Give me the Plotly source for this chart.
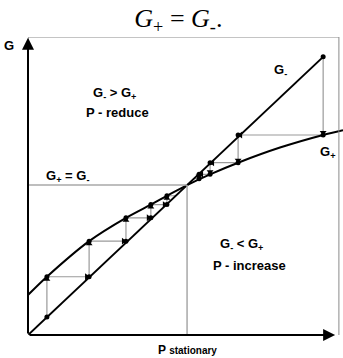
import plotly.graph_objects as go

# G- straight line (data units)
gminus_x = [0.0, 9.37]
gminus_y = [0.0, 8.83]

# G+ concave curve
gplus_x = [0.0, 0.60, 1.94, 3.11, 3.90, 4.41, 5.05, 5.78, 6.67, 8.0, 9.37, 10.0]
gplus_y = [1.27, 1.85, 2.98, 3.72, 4.14, 4.42, 4.76, 5.10, 5.47, 5.95, 6.35, 6.50]

# cobweb from below (P increase)
low_x = [0.60, 0.60, 1.94, 1.94, 3.11, 3.11, 3.90, 3.90, 4.41, 4.41, 4.70]
low_y = [0.57, 1.85, 1.85, 2.98, 2.98, 3.72, 3.72, 4.14, 4.14, 4.42, 4.42]

# cobweb from above (P reduce)
high_x = [9.37, 9.37, 6.67, 6.67, 5.78, 5.78, 5.43, 5.43, 5.25]
high_y = [8.83, 6.35, 6.35, 5.47, 5.47, 5.10, 5.10, 4.96, 4.96]

p_stat = 5.05
g_stat = 4.76

XMAX = 10.0
YMAX = 298 / 31.5

fig = go.Figure()

# gray frame
fig.add_shape(type="rect", x0=0, x1=9.87, y0=-0.3, y1=YMAX,
              line=dict(color="#8a8a8a", width=1))
# stationary guides
fig.add_shape(type="line", x0=0, x1=p_stat, y0=g_stat, y1=g_stat,
              line=dict(color="#a8a8a8", width=1.5))
fig.add_shape(type="line", x0=p_stat, x1=p_stat, y0=0, y1=g_stat,
              line=dict(color="#a8a8a8", width=1.5))

# cobwebs
for cx, cy in [(low_x, low_y), (high_x, high_y)]:
    fig.add_trace(go.Scatter(x=cx, y=cy, mode="lines",
                             line=dict(color="#9a9a9a", width=1.2)))

# curves
fig.add_trace(go.Scatter(x=gminus_x, y=gminus_y, mode="lines",
                         line=dict(color="black", width=2)))
fig.add_trace(go.Scatter(x=gplus_x, y=gplus_y, mode="lines",
                         line=dict(color="black", width=2, shape="spline", smoothing=0.8)))

# corner dots
dots_x = [0.0] + low_x[:-1] + high_x[:-1]
dots_y = [0.0] + low_y[:-1] + high_y[:-1]
fig.add_trace(go.Scatter(x=dots_x, y=dots_y, mode="markers",
                         marker=dict(color="black", size=5)))

# small arrowheads at segment ends
ax, ay, sym = [], [], []
for cx, cy in [(low_x, low_y), (high_x, high_y)]:
    for i in range(1, len(cx) - 1):
        x0, y0, x1, y1 = cx[i - 1], cy[i - 1], cx[i], cy[i]
        f = 0.08
        if x0 == x1:
            d = 1 if y1 > y0 else -1
            ax.append(x1)
            ay.append(y1 - d * f)
            sym.append("triangle-up" if d > 0 else "triangle-down")
        else:
            d = 1 if x1 > x0 else -1
            ax.append(x1 - d * f)
            ay.append(y1)
            sym.append("triangle-right" if d > 0 else "triangle-left")
fig.add_trace(go.Scatter(x=ax, y=ay, mode="markers",
                         marker=dict(color="black", size=6, symbol=sym)))

# axes with arrows
fig.add_annotation(x=9.75, y=0, ax=0, ay=0, xref="x", yref="y", axref="x", ayref="y",
                   showarrow=True, arrowhead=2, arrowsize=1.2, arrowwidth=2, arrowcolor="black", text="")
fig.add_annotation(x=0, y=YMAX - 0.02, ax=0, ay=0, xref="x", yref="y", axref="x", ayref="y",
                   showarrow=True, arrowhead=2, arrowsize=1.2, arrowwidth=2, arrowcolor="black", text="")

bold = dict(family="Liberation Sans", size=13, color="black")
labels = [
    (2.73, 7.68, "<b>G<sub>-</sub> > G<sub>+</sub></b>"),
    (2.84, 7.05, "<b>P - reduce</b>"),
    (8.03, 8.41, "<b>G<sub>-</sub></b>"),
    (9.52, 5.78, "<b>G<sub>+</sub></b>"),
    (1.24, 5.04, "<b>G<sub>+</sub> = G<sub>-</sub></b>"),
    (6.79, 2.86, "<b>G<sub>-</sub> < G<sub>+</sub></b>"),
    (7.02, 2.22, "<b>P - increase</b>"),
]
for x, y, t in labels:
    fig.add_annotation(x=x, y=y, text=t, showarrow=False, font=bold)

# labels outside the plotting area: paper coordinates
fig.add_annotation(x=0, y=1, xref="paper", yref="paper", xanchor="right", yanchor="middle",
                   xshift=-12, yshift=-8, text="<b>G</b>", showarrow=False, font=bold)
fig.add_annotation(x=(p_stat / XMAX), y=0, xref="paper", yref="paper", yanchor="middle",
                   yshift=-15,
                   text="<b>P </b><b><span style='font-size:10px'>stationary</span></b>",
                   showarrow=False, font=dict(family="Liberation Sans", size=12, color="black"))

fig.update_layout(
    width=343, height=358,
    margin=dict(l=28, r=0, t=37, b=23),
    showlegend=False,
    hovermode=False,
    plot_bgcolor="white", paper_bgcolor="white",
    title=dict(text="<i>G</i><sub>+</sub> = <i>G</i><sub>-</sub>.", x=0.52, xanchor="center",
               y=0.975, yanchor="top",
               font=dict(family="Liberation Serif", size=26, color="black")),
    xaxis=dict(range=[0, XMAX], visible=False),
    yaxis=dict(range=[0, YMAX], visible=False),
)

# drop the default page margin so the figure sits at the window corner
fig.write_html("out.html", config={"displayModeBar": False},
               post_script="document.body.style.margin='0';")
